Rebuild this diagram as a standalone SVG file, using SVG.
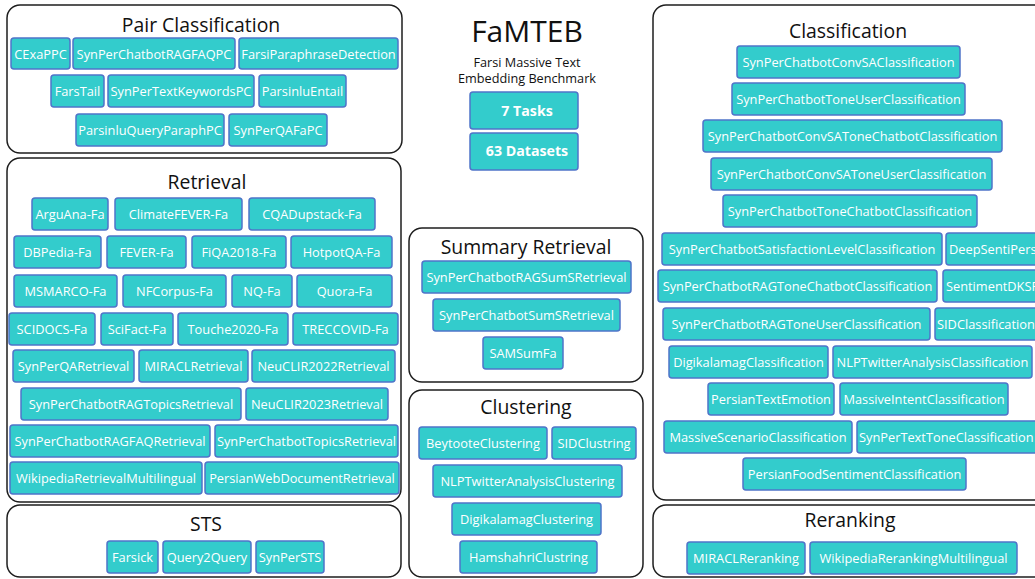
<svg xmlns="http://www.w3.org/2000/svg" width="1035" height="579" viewBox="0 0 1035 579">
<style>
.panel{fill:#fff;stroke:#1e1e1e;stroke-width:1.5}
.box{fill:#33CCCC;stroke:#4F74C9;stroke-width:1.5}
.lbl{font-family:"Open Sans","Noto Sans",sans-serif;font-size:12.8px;fill:#fff;text-anchor:middle}
.lbs{font-family:"Open Sans","Noto Sans",sans-serif;font-size:12.8px;fill:#fff;text-anchor:start}
.ttl{font-family:"Open Sans","Noto Sans",sans-serif;font-size:19.4px;fill:#111;text-anchor:middle}
.sub{font-family:"Open Sans","Noto Sans",sans-serif;font-size:12.7px;fill:#111;text-anchor:middle}
.big{font-family:"Open Sans","Noto Sans",sans-serif;font-size:30px;fill:#111;text-anchor:middle}
.bold{font-family:"Open Sans","Noto Sans",sans-serif;font-size:14.2px;font-weight:bold;fill:#fff;text-anchor:middle}
</style>
<rect width="1035" height="579" fill="#fff"/>
<g id="connectors"/>

<g id="header">
<text class="big" x="527" y="42">FaMTEB</text>
<text class="sub" x="527" y="67">Farsi Massive Text</text>
<text class="sub" x="527" y="83">Embedding Benchmark</text>
<g id="n-tasks"><rect class="box" x="470" y="92" width="108" height="37" rx="3"/><text class="bold" x="527" y="116">7 Tasks</text></g>
<g id="n-datasets"><rect class="box" x="470" y="133" width="108" height="37" rx="3"/><text class="bold" x="527" y="156">63 Datasets</text></g>
</g>

<g id="pair-classification">
<rect class="panel" x="7" y="5" width="395" height="148" rx="13"/>
<text class="ttl" x="201" y="32">Pair Classification</text>
<g id="n-cexappc"><rect class="box" x="11" y="38" width="59" height="31" rx="3"/><text class="lbl" x="40.5" y="58.5">CExaPPC</text></g>
<g id="n-synperchatbotragfaqpc"><rect class="box" x="73" y="38" width="162" height="31" rx="3"/><text class="lbl" x="154" y="58.5">SynPerChatbotRAGFAQPC</text></g>
<g id="n-farsiparaphrasedetection"><rect class="box" x="239" y="38" width="159" height="31" rx="3"/><text class="lbl" x="318.5" y="58.5">FarsiParaphraseDetection</text></g>
<g id="n-farstail"><rect class="box" x="51" y="75" width="53" height="32" rx="3"/><text class="lbl" x="77.5" y="96">FarsTail</text></g>
<g id="n-synpertextkeywordspc"><rect class="box" x="108" y="75" width="146" height="32" rx="3"/><text class="lbl" x="181" y="96">SynPerTextKeywordsPC</text></g>
<g id="n-parsinluentail"><rect class="box" x="259" y="75" width="87" height="32" rx="3"/><text class="lbl" x="302.5" y="96">ParsinluEntail</text></g>
<g id="n-parsinluqueryparaphpc"><rect class="box" x="76" y="114" width="148" height="32" rx="3"/><text class="lbl" x="150" y="135">ParsinluQueryParaphPC</text></g>
<g id="n-synperqafapc"><rect class="box" x="229" y="114" width="98" height="32" rx="3"/><text class="lbl" x="278" y="135">SynPerQAFaPC</text></g>
</g>

<g id="retrieval">
<rect class="panel" x="7" y="158" width="394" height="344" rx="13"/>
<text class="ttl" x="207" y="189">Retrieval</text>
<g id="n-arguana"><rect class="box" x="32" y="198" width="76" height="32" rx="3"/><text class="lbl" x="70" y="219">ArguAna-Fa</text></g>
<g id="n-climatefever"><rect class="box" x="115" y="198" width="127" height="32" rx="3"/><text class="lbl" x="178.5" y="219">ClimateFEVER-Fa</text></g>
<g id="n-cqadupstack"><rect class="box" x="249" y="198" width="126" height="32" rx="3"/><text class="lbl" x="312" y="219">CQADupstack-Fa</text></g>
<g id="n-dbpedia"><rect class="box" x="14" y="236" width="87" height="32" rx="3"/><text class="lbl" x="57.5" y="257">DBPedia-Fa</text></g>
<g id="n-fever"><rect class="box" x="107" y="236" width="79" height="32" rx="3"/><text class="lbl" x="146.5" y="257">FEVER-Fa</text></g>
<g id="n-fiqa"><rect class="box" x="192" y="236" width="94" height="32" rx="3"/><text class="lbl" x="239" y="257">FiQA2018-Fa</text></g>
<g id="n-hotpotqa"><rect class="box" x="291" y="236" width="101" height="32" rx="3"/><text class="lbl" x="341.5" y="257">HotpotQA-Fa</text></g>
<g id="n-msmarco"><rect class="box" x="14" y="275" width="103" height="32" rx="3"/><text class="lbl" x="65.5" y="296">MSMARCO-Fa</text></g>
<g id="n-nfcorpus"><rect class="box" x="123" y="275" width="103" height="32" rx="3"/><text class="lbl" x="174.5" y="296">NFCorpus-Fa</text></g>
<g id="n-nq"><rect class="box" x="232" y="275" width="60" height="32" rx="3"/><text class="lbl" x="262" y="296">NQ-Fa</text></g>
<g id="n-quora"><rect class="box" x="297" y="275" width="95" height="32" rx="3"/><text class="lbl" x="344.5" y="296">Quora-Fa</text></g>
<g id="n-scidocs"><rect class="box" x="9" y="313" width="86" height="32" rx="3"/><text class="lbl" x="52" y="334">SCIDOCS-Fa</text></g>
<g id="n-scifact"><rect class="box" x="101" y="313" width="72" height="32" rx="3"/><text class="lbl" x="137" y="334">SciFact-Fa</text></g>
<g id="n-touche"><rect class="box" x="178" y="313" width="110" height="32" rx="3"/><text class="lbl" x="233" y="334">Touche2020-Fa</text></g>
<g id="n-treccovid"><rect class="box" x="293" y="313" width="105" height="32" rx="3"/><text class="lbl" x="345.5" y="334">TRECCOVID-Fa</text></g>
<g id="n-synperqaretrieval"><rect class="box" x="13" y="350" width="121" height="32" rx="3"/><text class="lbl" x="73.5" y="371">SynPerQARetrieval</text></g>
<g id="n-miraclretrieval"><rect class="box" x="139" y="350" width="109" height="32" rx="3"/><text class="lbl" x="193.5" y="371">MIRACLRetrieval</text></g>
<g id="n-neuclir2022"><rect class="box" x="252" y="350" width="143" height="32" rx="3"/><text class="lbl" x="323.5" y="371">NeuCLIR2022Retrieval</text></g>
<g id="n-synperchatbotragtopics"><rect class="box" x="21" y="388" width="220" height="32" rx="3"/><text class="lbl" x="131" y="409">SynPerChatbotRAGTopicsRetrieval</text></g>
<g id="n-neuclir2023"><rect class="box" x="246" y="388" width="142" height="32" rx="3"/><text class="lbl" x="317" y="409">NeuCLIR2023Retrieval</text></g>
<g id="n-synperchatbotragfaqretrieval"><rect class="box" x="10" y="425" width="200" height="32" rx="3"/><text class="lbl" x="110" y="446">SynPerChatbotRAGFAQRetrieval</text></g>
<g id="n-synperchatbottopicsretrieval"><rect class="box" x="215" y="425" width="183" height="32" rx="3"/><text class="lbl" x="306.5" y="446">SynPerChatbotTopicsRetrieval</text></g>
<g id="n-wikipediaretrieval"><rect class="box" x="10" y="462" width="192" height="32" rx="3"/><text class="lbl" x="106" y="483">WikipediaRetrievalMultilingual</text></g>
<g id="n-persianwebdoc"><rect class="box" x="205" y="462" width="194" height="32" rx="3"/><text class="lbl" x="302" y="483">PersianWebDocumentRetrieval</text></g>
</g>

<g id="sts">
<rect class="panel" x="7" y="505" width="394" height="72" rx="13"/>
<text class="ttl" x="206" y="531">STS</text>
<g id="n-farsick"><rect class="box" x="107" y="541" width="51" height="32" rx="3"/><text class="lbl" x="132.5" y="562">Farsick</text></g>
<g id="n-query2query"><rect class="box" x="163" y="541" width="88" height="32" rx="3"/><text class="lbl" x="207" y="562">Query2Query</text></g>
<g id="n-synpersts"><rect class="box" x="256" y="541" width="68" height="32" rx="3"/><text class="lbl" x="290" y="562">SynPerSTS</text></g>
</g>

<g id="summary-retrieval">
<rect class="panel" x="409" y="228" width="234" height="154" rx="13"/>
<text class="ttl" x="526" y="254">Summary Retrieval</text>
<g id="n-ragsums"><rect class="box" x="422" y="261" width="209" height="32" rx="3"/><text class="lbl" x="526.5" y="282">SynPerChatbotRAGSumSRetrieval</text></g>
<g id="n-sums"><rect class="box" x="433" y="299" width="187" height="32" rx="3"/><text class="lbl" x="526.5" y="320">SynPerChatbotSumSRetrieval</text></g>
<g id="n-samsum"><rect class="box" x="483" y="337" width="80" height="32" rx="3"/><text class="lbl" x="523" y="358">SAMSumFa</text></g>
</g>

<g id="clustering">
<rect class="panel" x="409" y="390" width="234" height="187" rx="13"/>
<text class="ttl" x="526" y="414">Clustering</text>
<g id="n-beytoote"><rect class="box" x="419" y="427" width="128" height="32" rx="3"/><text class="lbl" x="483" y="448">BeytooteClustering</text></g>
<g id="n-sidclustring"><rect class="box" x="552" y="427" width="84" height="32" rx="3"/><text class="lbl" x="594" y="448">SIDClustring</text></g>
<g id="n-nlptwitterclustering"><rect class="box" x="433" y="465" width="189" height="32" rx="3"/><text class="lbl" x="527.5" y="486">NLPTwitterAnalysisClustering</text></g>
<g id="n-digikalamagclustering"><rect class="box" x="452" y="503" width="149" height="32" rx="3"/><text class="lbl" x="526.5" y="524">DigikalamagClustering</text></g>
<g id="n-hamshahri"><rect class="box" x="460" y="541" width="137" height="32" rx="3"/><text class="lbl" x="528.5" y="562">HamshahriClustring</text></g>
</g>

<g id="classification">
<rect class="panel" x="653" y="5" width="400" height="495" rx="13"/>
<text class="ttl" x="848" y="38">Classification</text>
<g id="n-convsa"><rect class="box" x="737" y="46" width="223" height="32" rx="3"/><text class="lbl" x="848.5" y="67">SynPerChatbotConvSAClassification</text></g>
<g id="n-toneuser"><rect class="box" x="732" y="83" width="233" height="32" rx="3"/><text class="lbl" x="848.5" y="104">SynPerChatbotToneUserClassification</text></g>
<g id="n-convsatonechatbot"><rect class="box" x="703" y="120" width="299" height="32" rx="3"/><text class="lbl" x="852.5" y="141">SynPerChatbotConvSAToneChatbotClassification</text></g>
<g id="n-convsatoneuser"><rect class="box" x="711" y="158" width="281" height="32" rx="3"/><text class="lbl" x="851.5" y="179">SynPerChatbotConvSAToneUserClassification</text></g>
<g id="n-tonechatbot"><rect class="box" x="723" y="195" width="254" height="32" rx="3"/><text class="lbl" x="850" y="216">SynPerChatbotToneChatbotClassification</text></g>
<g id="n-satisfaction"><rect class="box" x="662" y="233" width="280" height="32" rx="3"/><text class="lbl" x="802" y="254">SynPerChatbotSatisfactionLevelClassification</text></g>
<g id="n-deepsentipers"><rect class="box" x="946" y="233" width="100" height="32" rx="3"/><text class="lbs" x="949" y="254">DeepSentiPers</text></g>
<g id="n-ragtonechatbot"><rect class="box" x="658" y="270" width="279" height="32" rx="3"/><text class="lbl" x="797.5" y="291">SynPerChatbotRAGToneChatbotClassification</text></g>
<g id="n-sentimentdksf"><rect class="box" x="943" y="270" width="100" height="32" rx="3"/><text class="lbs" x="946" y="291">SentimentDKSF</text></g>
<g id="n-ragtoneuser"><rect class="box" x="663" y="308" width="267" height="32" rx="3"/><text class="lbl" x="796.5" y="329">SynPerChatbotRAGToneUserClassification</text></g>
<g id="n-sidclassification"><rect class="box" x="935" y="308" width="110" height="32" rx="3"/><text class="lbs" x="937" y="329">SIDClassification</text></g>
<g id="n-digikalamagclassification"><rect class="box" x="669" y="346" width="159" height="32" rx="3"/><text class="lbl" x="748.5" y="367">DigikalamagClassification</text></g>
<g id="n-nlptwitterclassification"><rect class="box" x="833" y="346" width="199" height="32" rx="3"/><text class="lbl" x="932.5" y="367">NLPTwitterAnalysisClassification</text></g>
<g id="n-persiantextemotion"><rect class="box" x="708" y="383" width="126" height="32" rx="3"/><text class="lbl" x="771" y="404">PersianTextEmotion</text></g>
<g id="n-massiveintent"><rect class="box" x="840" y="383" width="168" height="32" rx="3"/><text class="lbl" x="924" y="404">MassiveIntentClassification</text></g>
<g id="n-massivescenario"><rect class="box" x="664" y="421" width="188" height="32" rx="3"/><text class="lbl" x="758" y="442">MassiveScenarioClassification</text></g>
<g id="n-synpertexttone"><rect class="box" x="857" y="421" width="190" height="32" rx="3"/><text class="lbs" x="859" y="442">SynPerTextToneClassification</text></g>
<g id="n-persianfood"><rect class="box" x="743" y="458" width="223" height="32" rx="3"/><text class="lbl" x="854.5" y="479">PersianFoodSentimentClassification</text></g>
</g>

<g id="reranking">
<rect class="panel" x="653" y="505" width="400" height="72" rx="13"/>
<text class="ttl" x="850" y="527">Reranking</text>
<g id="n-miraclreranking"><rect class="box" x="687" y="542" width="118" height="32" rx="3"/><text class="lbl" x="746" y="563">MIRACLReranking</text></g>
<g id="n-wikipediareranking"><rect class="box" x="810" y="542" width="207" height="32" rx="3"/><text class="lbl" x="913.5" y="563">WikipediaRerankingMultilingual</text></g>
</g>
</svg>
